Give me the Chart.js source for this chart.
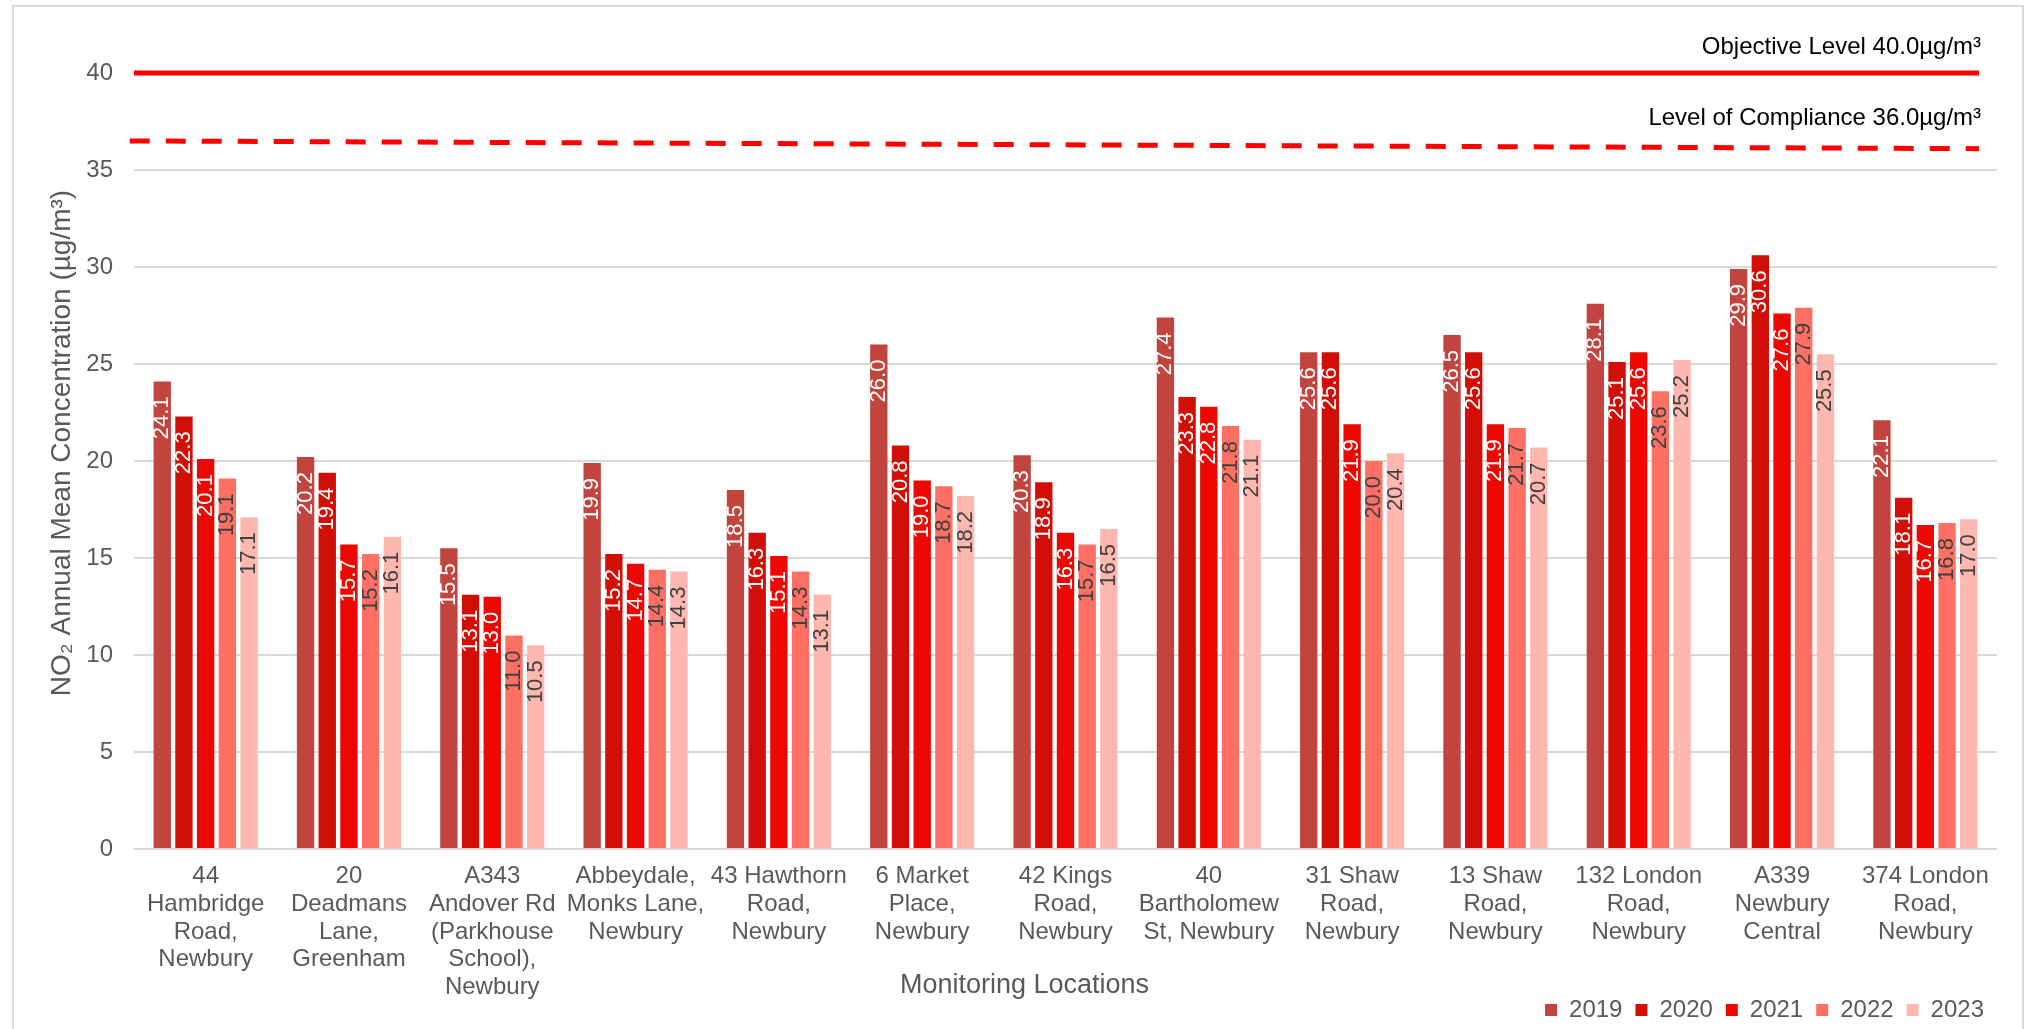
<!DOCTYPE html>
<html>
<head>
<meta charset="utf-8">
<title>NO2 Annual Mean Concentration</title>
<script src="https://cdn.jsdelivr.net/npm/chart.js@4.4.1/dist/chart.umd.min.js"></script>
<style>
    html, body { margin: 0; padding: 0; background: #fff; }
    #wrap { position: relative; width: 2029px; height: 1029px; overflow: hidden; }
    #frame { position: absolute; left: 12px; top: 5px; width: 2012px; height: 1040px; border: 2px solid #D9D9D9; box-sizing: border-box; }
    #chart { position: absolute; left: 0; top: 0; }
</style>
</head>
<body>
<div id="wrap">
    <div id="frame"></div>
    <canvas id="chart" width="2029" height="1029"></canvas>
</div>
<script>
// Dados do gráfico
const locations = [
    ['44', 'Hambridge', 'Road,', 'Newbury'],
    ['20', 'Deadmans', 'Lane,', 'Greenham'],
    ['A343', 'Andover Rd', '(Parkhouse', 'School),', 'Newbury'],
    ['Abbeydale,', 'Monks Lane,', 'Newbury'],
    ['43 Hawthorn', 'Road,', 'Newbury'],
    ['6 Market', 'Place,', 'Newbury'],
    ['42 Kings', 'Road,', 'Newbury'],
    ['40', 'Bartholomew', 'St, Newbury'],
    ['31 Shaw', 'Road,', 'Newbury'],
    ['13 Shaw', 'Road,', 'Newbury'],
    ['132 London', 'Road,', 'Newbury'],
    ['A339', 'Newbury', 'Central'],
    ['374 London', 'Road,', 'Newbury']
];
const years = ['2019', '2020', '2021', '2022', '2023'];
const values2019 = [24.1, 20.2, 15.5, 19.9, 18.5, 26.0, 20.3, 27.4, 25.6, 26.5, 28.1, 29.9, 22.1];
const values2020 = [22.3, 19.4, 13.1, 15.2, 16.3, 20.8, 18.9, 23.3, 25.6, 25.6, 25.1, 30.6, 18.1];
const values2021 = [20.1, 15.7, 13.0, 14.7, 15.1, 19.0, 16.3, 22.8, 21.9, 21.9, 25.6, 27.6, 16.7];
const values2022 = [19.1, 15.2, 11.0, 14.4, 14.3, 18.7, 15.7, 21.8, 20.0, 21.7, 23.6, 27.9, 16.8];
const values2023 = [17.1, 16.1, 10.5, 14.3, 13.1, 18.2, 16.5, 21.1, 20.4, 20.7, 25.2, 25.5, 17.0];
const barColors = ['#C2443F', '#D20F06', '#EC0700', '#FF7064', '#FFB8B0'];
const barLabelColors = ['#FFFFFF', '#FFFFFF', '#FFFFFF', '#404040', '#404040'];

// Linhas de referência (x em unidades de categoria)
const objectiveX = [-0.5, 12.375];
const objectiveLevel = [40.0, 40.0];
const complianceX = [-0.53, 12.375];
const complianceLevel = [36.5, 36.1];
const levelLabels = ['Objective Level 40.0µg/m³', 'Level of Compliance 36.0µg/m³'];

// Eixos
const yMin = 0;
const yMax = 40;
const yStep = 5;
const yTitle = 'NO₂ Annual Mean Concentration (µg/m³)';
const xTitle = 'Monitoring Locations';

const FONT = "'Liberation Sans', Arial, sans-serif";
Chart.defaults.font.family = FONT;
Chart.defaults.color = '#595959';

const seriesValues = [values2019, values2020, values2021, values2022, values2023];

const barDatasets = years.map((year, i) => ({
    type: 'bar',
    label: year,
    data: seriesValues[i].map((v, j) => ({ x: j, y: v })),
    backgroundColor: barColors[i],
    borderWidth: 0,
    categoryPercentage: 0.757,
    barPercentage: 0.8,
    order: 2
}));

const toPoints = (xs, ys) => xs.map((x, k) => ({ x: x, y: ys[k] }));

const lineDatasets = [{
    type: 'line',
    label: 'Objective Level',
    data: toPoints(objectiveX, objectiveLevel),
    borderColor: '#FF0000',
    borderWidth: 5,
    pointRadius: 0,
    clip: false,
    order: 1
}, {
    type: 'line',
    label: 'Level of Compliance',
    data: toPoints(complianceX, complianceLevel),
    borderColor: '#FF0000',
    borderWidth: 5,
    borderDash: [20, 16],
    pointRadius: 0,
    clip: false,
    order: 1
}];

// Rótulos de valor girados dentro das barras
const barValueLabels = {
    id: 'barValueLabels',
    afterDatasetsDraw(chart) {
        const ctx = chart.ctx;
        ctx.save();
        ctx.font = '22px ' + FONT;
        ctx.textAlign = 'right';
        ctx.textBaseline = 'middle';
        chart.data.datasets.forEach((ds, i) => {
            if (ds.type !== 'bar') return;
            const meta = chart.getDatasetMeta(i);
            meta.data.forEach((bar, j) => {
                ctx.save();
                ctx.translate(bar.x, bar.y + 15);
                ctx.rotate(-Math.PI / 2);
                ctx.fillStyle = barLabelColors[i];
                ctx.fillText(ds.data[j].y.toFixed(1), 0, 0);
                ctx.restore();
            });
        });
        ctx.restore();
    }
};

// Títulos dos eixos e textos das linhas de referência
const extraTexts = {
    id: 'extraTexts',
    afterLayout(chart) {
        // deixa a última linha dos rótulos do eixo x passar por cima da legenda
        chart.scales.x.bottom = chart.height;
    },
    afterDraw(chart) {
        const ctx = chart.ctx;
        ctx.save();
        ctx.font = '24px ' + FONT;
        ctx.fillStyle = '#000000';
        ctx.textAlign = 'right';
        ctx.textBaseline = 'middle';
        const gaps = [26, 30];
        [5, 6].forEach((dsIndex, k) => {
            const pts = chart.getDatasetMeta(dsIndex).data;
            const last = pts[pts.length - 1];
            ctx.fillText(levelLabels[k], last.x + 2, last.y - gaps[k]);
        });

        ctx.font = '27px ' + FONT;
        ctx.fillStyle = '#595959';
        ctx.textAlign = 'center';
        ctx.fillText(xTitle, chart.width / 2 + 10, 986);

        ctx.font = '28px ' + FONT;
        ctx.translate(62, 443);
        ctx.rotate(-Math.PI / 2);
        ctx.fillText(yTitle, 0, 0);
        ctx.restore();
    }
};

const chart = new Chart(document.getElementById('chart'), {
    type: 'bar',
    data: {
        datasets: barDatasets.concat(lineDatasets)
    },
    options: {
        responsive: false,
        devicePixelRatio: 1,
        animation: false,
        layout: {
            padding: { top: 73, right: 32, bottom: 0, left: 0 }
        },
        plugins: {
            tooltip: { enabled: false },
            legend: {
                position: 'bottom',
                align: 'end',
                maxHeight: 44,
                labels: {
                    boxWidth: 12,
                    boxHeight: 12,
                    padding: 13,
                    color: '#595959',
                    font: { size: 24 },
                    filter: (item) => item.datasetIndex < years.length
                }
            }
        },
        scales: {
            x: {
                type: 'linear',
                min: -0.5,
                max: locations.length - 0.5,
                offset: false,
                grid: { display: false, drawTicks: false, offset: false },
                border: { display: false },
                afterBuildTicks: (scale) => {
                    scale.ticks = locations.map((_, i) => ({ value: i }));
                },
                ticks: {
                    color: '#595959',
                    padding: 14,
                    maxRotation: 0,
                    autoSkip: false,
                    font: { size: 24, lineHeight: 1.15 },
                    callback: (value) => locations[value]
                },
                afterFit: (scale) => { scale.height = 136; }
            },
            y: {
                min: yMin,
                max: yMax,
                z: 1,
                border: { display: false },
                grid: {
                    drawTicks: false,
                    lineWidth: 2,
                    color: (c) => c.tick && c.tick.value === yMax ? 'rgba(0,0,0,0)' : 'rgba(0,0,0,0.15)'
                },
                ticks: {
                    stepSize: yStep,
                    padding: 21,
                    color: '#595959',
                    font: { size: 24 }
                },
                afterFit: (scale) => { scale.width = 134; }
            }
        }
    },
    plugins: [barValueLabels, extraTexts]
});
</script>
</body>
</html>
